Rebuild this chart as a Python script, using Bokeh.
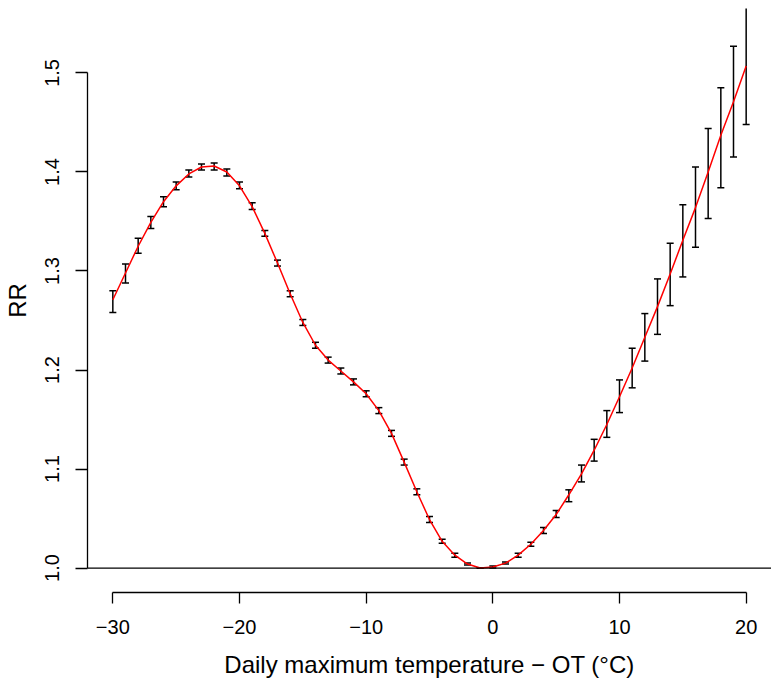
from bokeh.plotting import figure
from bokeh.models import ColumnDataSource, Whisker, TeeHead, Span, Range1d, FixedTicker
from bokeh.embed import file_html
from bokeh.resources import INLINE

# Temperature relative to optimum temperature (deg C)
temp = [-30, -29, -28, -27, -26, -25, -24, -23, -22, -21,
        -20, -19, -18, -17, -16, -15, -14, -13, -12, -11,
        -10, -9, -8, -7, -6, -5, -4, -3, -2, -1,
        0, 1, 2, 3, 4, 5, 6, 7, 8, 9,
        10, 11, 12, 13, 14, 15, 16, 17, 18, 19, 20]

rr = [1.271, 1.298, 1.325, 1.349, 1.370, 1.386, 1.398, 1.405, 1.406, 1.400,
      1.386, 1.365, 1.338, 1.308, 1.277, 1.248, 1.225, 1.210, 1.199, 1.188,
      1.176, 1.159, 1.136, 1.107, 1.077, 1.049, 1.027, 1.013, 1.004, 1.000,
      1.001, 1.005, 1.013, 1.024, 1.038, 1.054, 1.074, 1.095, 1.119, 1.145,
      1.173, 1.202, 1.233, 1.264, 1.297, 1.331, 1.364, 1.400, 1.437, 1.471, 1.507]

rr_low = [1.258, 1.288, 1.318, 1.343, 1.365, 1.382, 1.395, 1.402, 1.402, 1.396,
          1.383, 1.362, 1.335, 1.305, 1.274, 1.245, 1.222, 1.207, 1.196, 1.185,
          1.173, 1.156, 1.133, 1.104, 1.074, 1.046, 1.025, 1.011, 1.003, 1.000,
          1.000, 1.004, 1.011, 1.022, 1.035, 1.051, 1.067, 1.087, 1.108, 1.132,
          1.157, 1.182, 1.209, 1.236, 1.265, 1.294, 1.324, 1.353, 1.384, 1.415, 1.448]

rr_high = [1.280, 1.307, 1.333, 1.355, 1.375, 1.390, 1.402, 1.408, 1.409, 1.403,
           1.390, 1.369, 1.341, 1.311, 1.280, 1.251, 1.228, 1.213, 1.202, 1.191,
           1.179, 1.162, 1.139, 1.110, 1.080, 1.052, 1.029, 1.015, 1.005, 1.000,
           1.002, 1.006, 1.015, 1.026, 1.041, 1.058, 1.079, 1.104, 1.130, 1.159,
           1.190, 1.222, 1.257, 1.292, 1.328, 1.367, 1.405, 1.444, 1.485, 1.527, 1.570]

x_ticks = [-30, -20, -10, 0, 10, 20]
y_ticks = [1.0, 1.1, 1.2, 1.3, 1.4, 1.5]
reference_rr = 1.0

x_title = "Daily maximum temperature \u2212 OT (\u00b0C)"
y_title = "RR"

FONT = "Liberation Sans"

src = ColumnDataSource(dict(x=temp, y=rr, lower=rr_low, upper=rr_high))

p = figure(width=771, height=680,
           x_range=Range1d(-32.0, 22.0), y_range=Range1d(0.9753, 1.5651),
           output_backend="svg", toolbar_location=None,
           min_border_left=86, min_border_right=0, min_border_top=8, min_border_bottom=86)

p.outline_line_color = None
p.xgrid.visible = False
p.ygrid.visible = False
p.background_fill_color = "white"
p.border_fill_color = "white"

# reference line RR = 1
p.add_layout(Span(location=reference_rr, dimension="width", line_color="black", line_width=1.3))

# error bars
wh = Whisker(source=src, base="x", lower="lower", upper="upper", dimension="height",
             line_color="black", line_width=1.5,
             lower_head=TeeHead(size=7, line_color="black", line_width=1.5),
             upper_head=TeeHead(size=7, line_color="black", line_width=1.5))
wh.level = "underlay"
p.add_layout(wh)

# red curve
p.line("x", "y", source=src, line_color="#FF0000", line_width=1.5)

def minus(v):
    s = ("%g" % v)
    return s.replace("-", "\u2212")

# x axis
xa = p.xaxis[0]
xa.ticker = FixedTicker(ticks=x_ticks)
xa.major_label_overrides = {t: minus(t) for t in x_ticks}
xa.bounds = (x_ticks[0], x_ticks[-1])
xa.minor_tick_line_color = None
xa.major_tick_in = 0
xa.major_tick_out = 11
xa.major_label_standoff = 16
xa.axis_label = x_title
xa.axis_label_standoff = 14
xa.axis_label_text_font = FONT
xa.axis_label_text_font_size = "24px"
xa.axis_label_text_font_style = "normal"
xa.axis_label_text_color = "black"
xa.major_label_text_font = FONT
xa.major_label_text_font_size = "20px"
xa.major_label_text_color = "black"
xa.axis_line_color = "black"
xa.axis_line_width = 1.3
xa.major_tick_line_color = "black"
xa.major_tick_line_width = 1.3

# y axis
ya = p.yaxis[0]
ya.ticker = FixedTicker(ticks=y_ticks)
ya.major_label_overrides = {t: "%.1f" % t for t in y_ticks}
ya.bounds = (y_ticks[0], y_ticks[-1])
ya.minor_tick_line_color = None
ya.major_tick_in = 0
ya.major_tick_out = 12
ya.major_label_standoff = 16
ya.major_label_orientation = "parallel"
ya.axis_label = y_title
ya.axis_label_standoff = 12
ya.axis_label_text_font = FONT
ya.axis_label_text_font_size = "24px"
ya.axis_label_text_font_style = "normal"
ya.axis_label_text_color = "black"
ya.major_label_text_font = FONT
ya.major_label_text_font_size = "20px"
ya.major_label_text_color = "black"
ya.axis_line_color = "black"
ya.axis_line_width = 1.3
ya.major_tick_line_color = "black"
ya.major_tick_line_width = 1.3

open("out.html", "w").write(file_html(p, INLINE))
